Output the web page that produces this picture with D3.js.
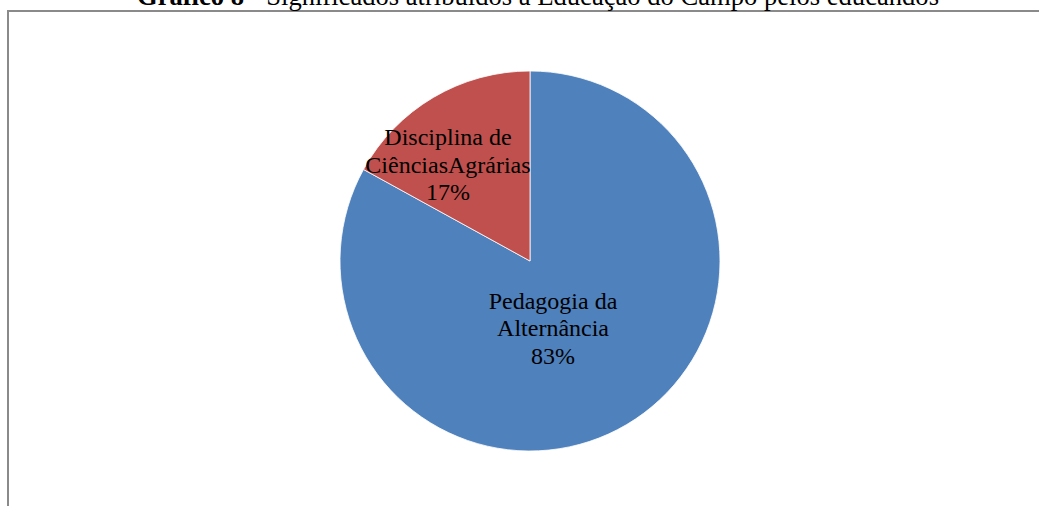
<!DOCTYPE html>
<html>
<head>
<meta charset="utf-8">
<script src="https://cdn.jsdelivr.net/npm/d3@7"></script>
<style>
  body { margin: 0; background: #fff; }
  svg { display: block; font-family: "Liberation Serif", "Times New Roman", serif; }
</style>
</head>
<body>
<script>
// chart data
var categories = ['Pedagogia da Alternância', 'Disciplina de CiênciasAgrárias'];
var labelLines = [['Pedagogia da', 'Alternância'], ['Disciplina de', 'CiênciasAgrárias']];
var values = [83, 17];
var colors = ['#4f81bd', '#c0504d'];
var titleBold = 'Gráfico 8';
var titleRest = ' - Significados atribuídos à Educação do Campo pelos educandos';

var width = 1039, height = 506;
var cx = 530, cy = 261, radius = 190;
// hand tweaks so labels sit where Excel put them
var nudge = [[-35, -31], [-24, 2]];

var svg = d3.select('body').append('svg')
            .attr('width', width)
            .attr('height', height);

// frame (only top & left edges visible)
svg.append('path')
   .attr('d', `M8,${height} V11 H${width}`)
   .attr('fill', 'none')
   .attr('stroke', '#8a8a8a')
   .attr('stroke-width', 2);

// title, cut off at the top like in the source
var title = svg.append('text')
   .attr('x', 538)
   .attr('y', 5)
   .attr('text-anchor', 'middle')
   .attr('font-size', 26.6)
   .attr('fill', '#000');
title.append('tspan').attr('font-weight', 'bold').text(titleBold);
title.append('tspan').text(titleRest);

var pie = d3.pie().sort(null).value(d => d);
var arcs = pie(values);
var arc = d3.arc().innerRadius(0).outerRadius(radius);
var labelArc = d3.arc().innerRadius(radius * 0.6).outerRadius(radius * 0.6);

var g = svg.append('g').attr('transform', `translate(${cx},${cy})`);

g.selectAll('path.slice').data(arcs)
 .enter().append('path')
   .attr('class', 'slice')
   .attr('d', arc)
   .attr('fill', (d, i) => colors[i])
   .attr('stroke', '#fff')
   .attr('stroke-width', 0.8);

var lineH = 27.5;
g.selectAll('text.lbl').data(arcs)
 .enter().append('text')
   .attr('class', 'lbl')
   .attr('text-anchor', 'middle')
   .attr('font-size', 24)
   .attr('fill', '#000')
   .each(function(d, i) {
     var c = labelArc.centroid(d);
     var x = c[0] + nudge[i][0], y = c[1] + nudge[i][1];
     var lines = labelLines[i].concat([d3.format('.0f')(d.data) + '%']);
     var t = d3.select(this);
     lines.forEach((s, k) => {
       t.append('tspan')
        .attr('x', x)
        .attr('y', y + (k - 1) * lineH + 8)
        .text(s);
     });
   });
</script>
</body>
</html>
